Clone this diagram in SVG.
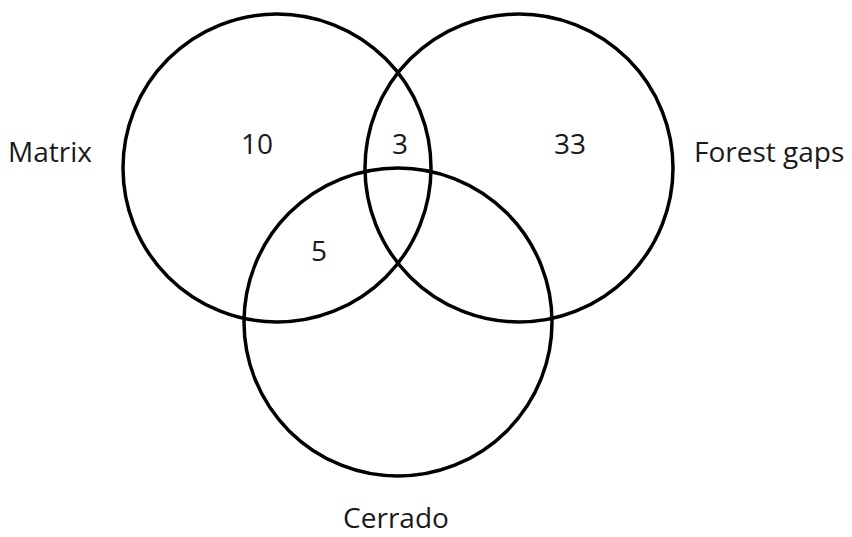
<svg xmlns="http://www.w3.org/2000/svg" width="852" height="537" viewBox="0 0 852 537">
<style>
.c{fill:none;stroke:#000;stroke-width:3.5}
text{font-family:"Open Sans","Liberation Sans",sans-serif;font-size:28px;fill:#1a1a1a}
</style>
<rect width="852" height="537" fill="#fff"/>
<g id="matrix">
<circle class="c" cx="277" cy="168" r="154"/>
<text x="8" y="162">Matrix</text>
</g>
<g id="forest-gaps">
<circle class="c" cx="519" cy="168" r="154"/>
<text x="694" y="162">Forest gaps</text>
</g>
<g id="cerrado">
<circle class="c" cx="398" cy="322" r="154"/>
<text x="396" y="528" text-anchor="middle">Cerrado</text>
</g>
<g id="counts">
<text x="257" y="154" text-anchor="middle">10</text>
<text x="400" y="154" text-anchor="middle">3</text>
<text x="570" y="154" text-anchor="middle">33</text>
<text x="319" y="261" text-anchor="middle">5</text>
</g>
</svg>
